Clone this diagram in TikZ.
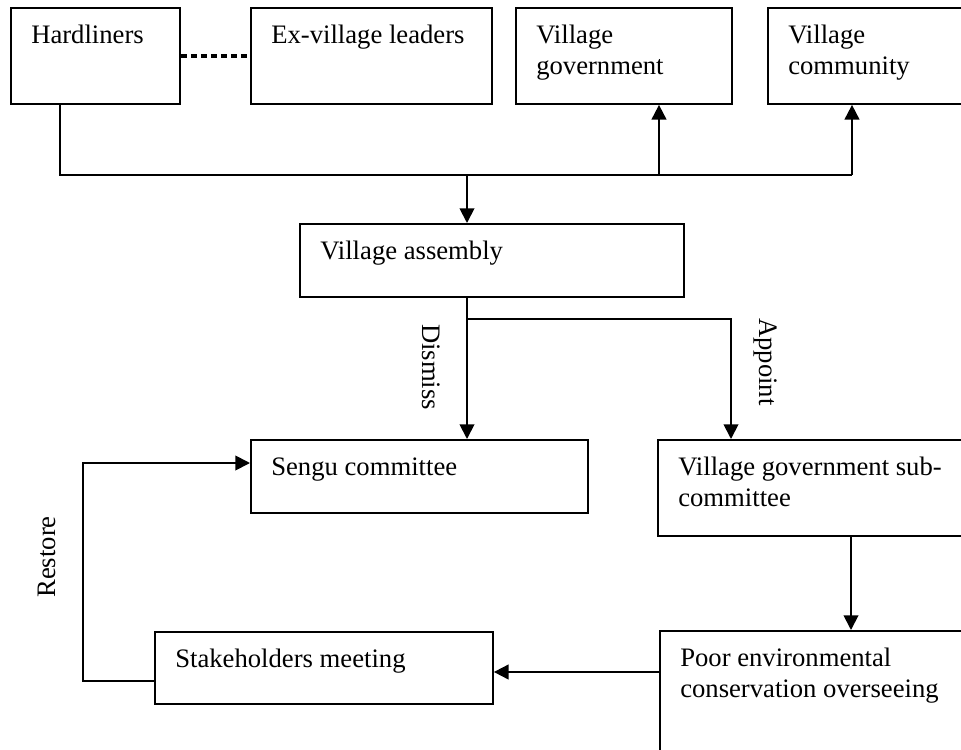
\documentclass[tikz,border=0pt]{standalone}
\usepackage{fontspec}
\setmainfont{Liberation Serif}
\usetikzlibrary{calc,arrows.meta}
\tikzset{
  box/.style={draw, line width=1.4pt, rectangle, inner sep=0pt, anchor=north west},
  txt/.style={font=\fontsize{20pt}{23.25pt}\selectfont, inner sep=0pt, anchor=base west, align=left},
  lbl/.style={font=\fontsize{20pt}{23.25pt}\selectfont, inner sep=0pt},
  line/.style={line width=1.4pt},
  arr/.style={line width=1.4pt, -{Triangle[length=11pt,width=11pt]}},
  dotline/.style={line width=3pt, dash pattern=on 4.5pt off 3pt}
}
% name, x1, y1, x2, y2, text, baseline offset of last line
\newcommand\mybox[7]{%
  \node[box, minimum width={(#4-#2)*0.75pt}, minimum height={(#5-#3)*0.75pt}] (#1) at (#2,#3) {};
  \node[txt] (#1-t) at ($(#1.north west)+(21,#7)$) {#6};}
\begin{document}
\begin{tikzpicture}[x=0.75pt, y=-0.75pt]
\useasboundingbox (0,0) rectangle (961,750);
\clip (0,0) rectangle (961,750);
\fill[white] (0,0) rectangle (961,750);
% top row
\mybox{h}{10}{7}{179}{103}{Hardliners}{36}
\mybox{ex}{250}{7}{491}{103}{Ex-village leaders}{36}
\mybox{gov}{515}{7}{731}{103}{Village\\government}{67}
\mybox{com}{767}{7}{1010}{103}{Village\\community}{67}
% middle
\mybox{va}{299}{223}{683}{296}{Village assembly}{36}
\mybox{sen}{250}{439}{587}{512}{Sengu committee}{36}
\mybox{sub}{657}{439}{1010}{535}{Village government sub-\\committee}{67}
% bottom
\mybox{sh}{154}{631}{492}{703}{Stakeholders meeting}{36}
\mybox{poor}{659}{630}{1010}{800}{Poor environmental\\conservation overseeing}{67}
% connectors
\draw[dotline] (h.east) -- (ex.west);
\draw[line] ($(h.south west)+(50,0)$) |- (852,175) coordinate (busR);
\draw[arr] (busR) -- (busR |- com.south);
\coordinate (busG) at (659,175);
\draw[arr] (busG) -- (busG |- gov.south);
\coordinate (busA) at (467,175);
\draw[arr] (busA) -- (busA |- va.north);
\draw[arr] (busA |- va.south) -- (busA |- sen.north);
\coordinate (br) at (467,319);
\draw[arr] (br) -| ($(sub.north west)+(74,0)$);
\draw[arr] ($(sub.south west)+(194,0)$) -- ($(poor.north west)+(192,0)$);
\coordinate (p1) at ($(poor.north west)+(0,42)$);
\draw[arr] (p1) -- (p1 -| sh.east);
\draw[arr] ($(sh.south west)+(0,-24)$) -- ++(-71,0) |- ($(sen.north west)+(0,24)$);
% labels
\node[lbl, rotate=-90] (dismiss) at (431,367) {Dismiss};
\node[lbl, rotate=-90] (appoint) at (765,362) {Appoint};
\node[lbl, rotate=90] (restore) at (47,557) {Restore};
\end{tikzpicture}
\end{document}
